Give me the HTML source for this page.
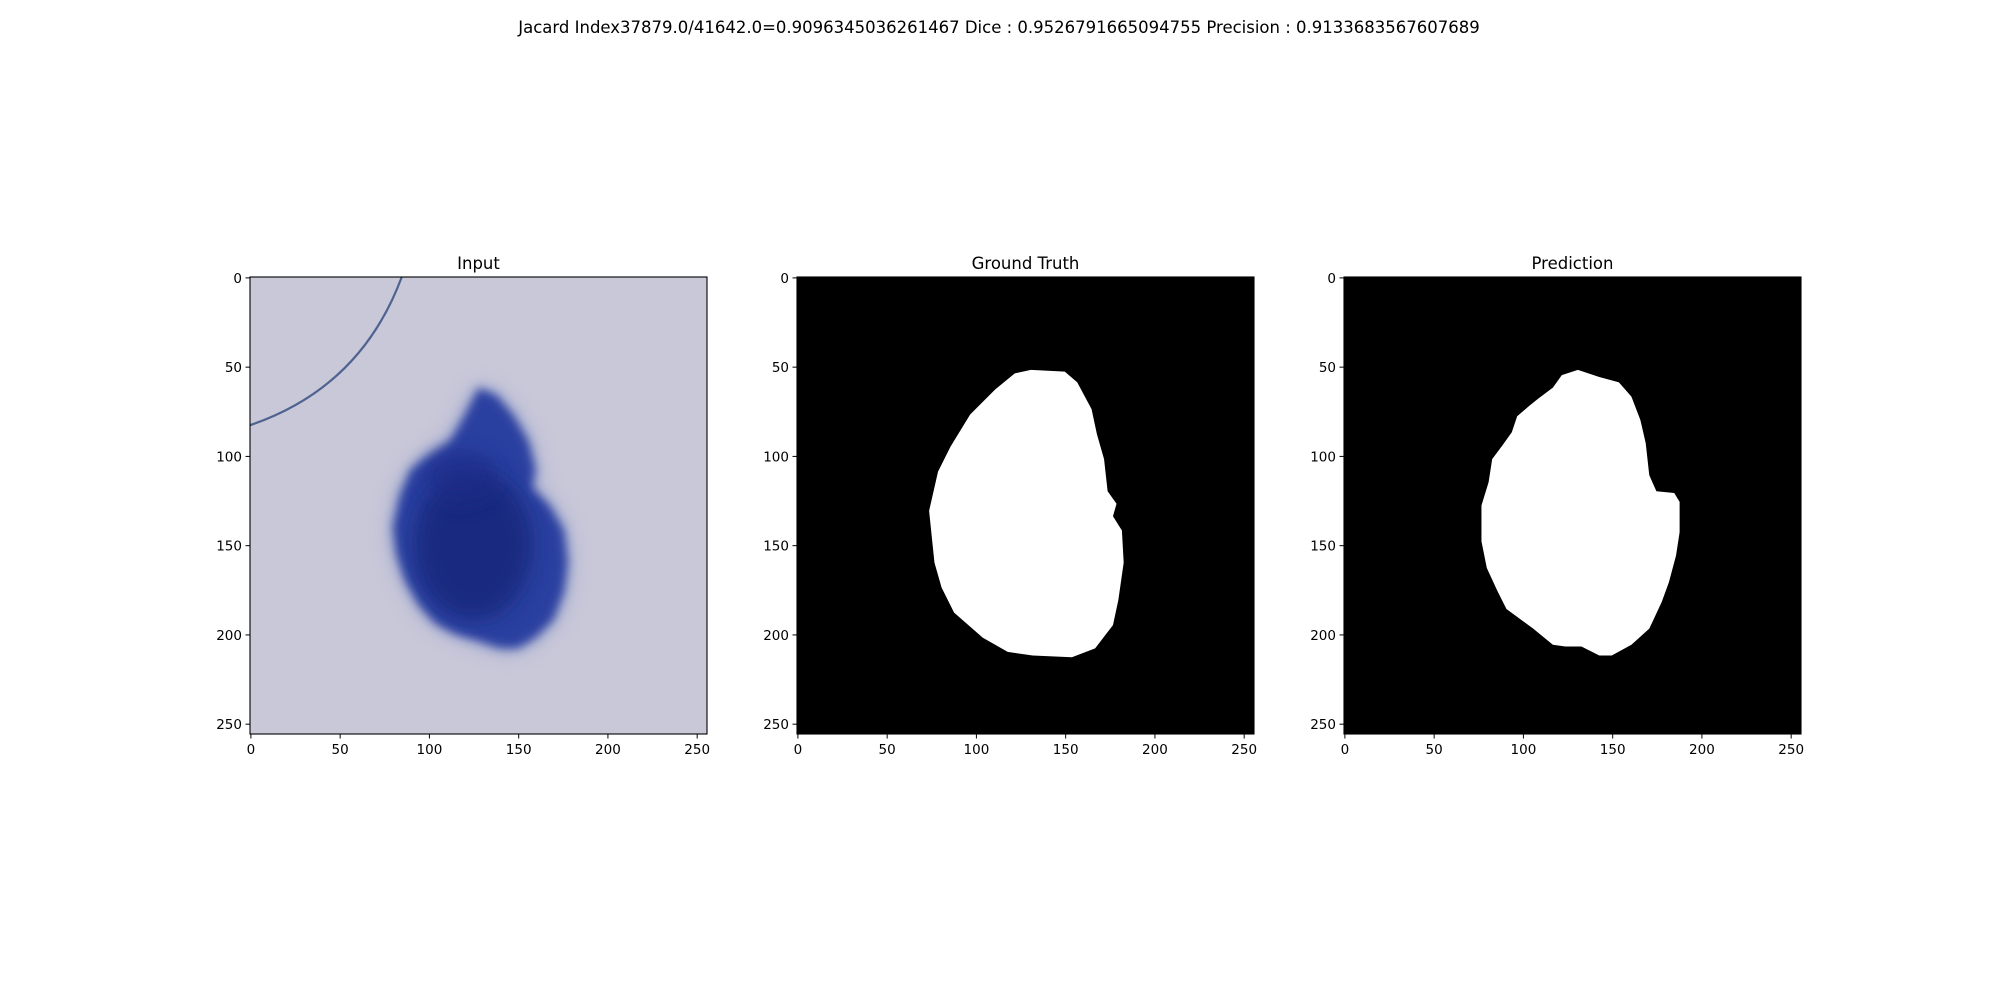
<!DOCTYPE html>
<html><head><meta charset="utf-8"><style>
html,body{margin:0;padding:0;background:#fff;}
svg{display:block;font-family:"DejaVu Sans","Liberation Sans",sans-serif;}
</style></head><body>
<svg id="fig" width="2000" height="1000" viewBox="0 0 2000 1000">
<defs>
<filter id="blur6" x="-50%" y="-50%" width="200%" height="200%"><feGaussianBlur stdDeviation="10"/></filter>
<filter id="blur3" x="-50%" y="-50%" width="200%" height="200%"><feGaussianBlur stdDeviation="5"/></filter>
<filter id="blur2" x="-50%" y="-50%" width="200%" height="200%"><feGaussianBlur stdDeviation="12"/></filter>
<clipPath id="clip1"><rect x="250" y="277" width="457" height="456"/></clipPath>
</defs>
<text x="999" y="33" font-size="16.5" text-anchor="middle">Jacard Index37879.0/41642.0=0.9096345036261467 Dice : 0.9526791665094755 Precision : 0.9133683567607689</text>
<g id="panels"></g>
</svg>
<script>
const ticks=[0,50,100,150,200,250];
const tickLabels=["0","50","100","150","200","250"];
const panelTitles=["Input","Ground Truth","Prediction"];
const gtX=[131,150,157,165,168,172,174,179,177,182,183,180,177,167,154,132,118,104,88,81,77,74,79,86,97,104,111,122];
const gtY=[52,53,59,74,88,102,120,127,134,142,160,181,195,208,213,212,210,202,188,174,160,131,109,95,77,70,63,54];
const prX=[131,143,154,161,166,169,171,175,185,188,188,186,182,178,171,161,150,143,133,124,117,106,91,86,80,77,77,81,83,89,94,97,104,109,117,122];
const prY=[52,56,59,67,80,93,111,120,121,126,143,156,171,182,197,206,212,212,207,207,206,197,186,176,163,148,128,115,102,94,87,78,72,68,62,55];
const lesX=[128,138,148,156,160,158,168,176,178,176,170,160,150,140,128,115,104,95,87,82,80,84,90,100,112,120];
const lesY=[62,66,78,92,108,118,128,142,160,176,192,202,208,208,204,200,194,184,170,155,140,122,108,100,92,78];
const lefts=[250,797,1344];
const top0=277, size=457, N=256;
const NS="http://www.w3.org/2000/svg";
const g=document.getElementById('panels');
function mk(tag,attrs,parent){const e=document.createElementNS(NS,tag);for(const k in attrs)e.setAttribute(k,attrs[k]);(parent||g).appendChild(e);return e;}
lefts.forEach((L,pi)=>{
  const sx=v=>L+v*size/N, sy=v=>top0+v*size/N;
  const pg=mk('g',{});
  
  
  if(pi===0){
    const bg=mk('rect',{x:L,y:top0,width:size,height:size,fill:'#c9c8d9'},pg);
    
    
    const bl=mk('g',{'clip-path':'url(#clip1)'},pg);
    const pts=lesX.map((x,i)=>sx(x)+','+sy(lesY[i])).join(' ');
    mk('polygon',{points:pts,fill:'#7a8cc8',opacity:0.7,filter:'url(#blur2)'},bl);
    const b=mk('polygon',{points:pts,fill:'#2a40a0',filter:'url(#blur3)'},bl);
    
    
    mk('ellipse',{cx:sx(125),cy:sy(150),rx:size*33/N,ry:size*42/N,fill:'#16257a',opacity:0.85,filter:'url(#blur6)'},bl);
    mk('ellipse',{cx:sx(118),cy:sy(112),rx:size*20/N,ry:size*14/N,fill:'#1c2c88',opacity:0.7,filter:'url(#blur6)'},bl);
    const c=mk('path',{d:`M${sx(0)},${sy(83)} Q${sx(62)},${sy(62)} ${sx(85)},${sy(0)}`,fill:'none',stroke:'#4f6390','stroke-width':2.2},bl);
    
    
  } else {
    const bg=mk('rect',{x:L,y:top0,width:size,height:size,fill:'#000'},pg);
    
    
    const xs=pi===1?gtX:prX, ys=pi===1?gtY:prY;
    const pts=xs.map((x,i)=>sx(x)+','+sy(ys[i])).join(' ');
    const p=mk('polygon',{points:pts,fill:'#fff'},pg);
    
    
  }
  mk('rect',{x:L,y:top0,width:size,height:size,fill:'none',stroke:'#000','stroke-width':1.1},pg);
  const t=mk('text',{x:L+size/2,y:top0-8,'font-size':16.5,'text-anchor':'middle'},pg);
  t.textContent=panelTitles[pi];
  
  
  ticks.forEach((v,i)=>{
    const px=sx(v+0.5), py=sy(v+0.5);
    mk('line',{x1:px,x2:px,y1:top0+size,y2:top0+size+4.5,stroke:'#000','stroke-width':1},pg);
    const tx=mk('text',{x:px,y:top0+size+20,'font-size':13.5,'text-anchor':'middle'},pg);
    tx.textContent=tickLabels[i];
    
    
    mk('line',{x1:L-4.5,x2:L,y1:py,y2:py,stroke:'#000','stroke-width':1},pg);
    const ty=mk('text',{x:L-8,y:py+5,'font-size':13.5,'text-anchor':'end'},pg);
    ty.textContent=tickLabels[i];
    
    
  });
});
</script>
</body></html>
